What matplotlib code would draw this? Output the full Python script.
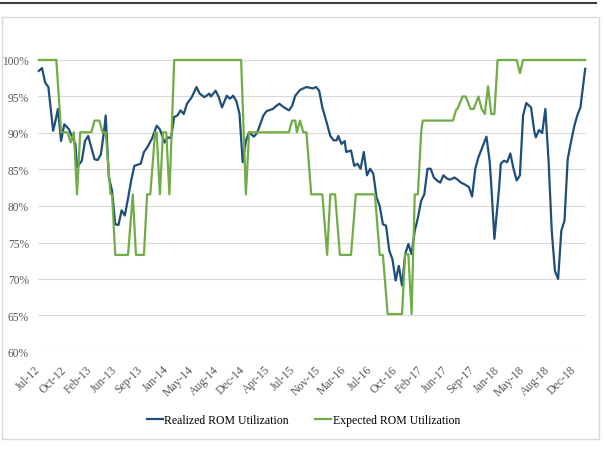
import matplotlib
matplotlib.use('Agg')
import matplotlib.pyplot as plt
from matplotlib.lines import Line2D
from matplotlib.patches import Rectangle

plt.rcParams['font.family'] = ['Liberation Serif', 'DejaVu Serif']

# weekly series, week 0 = early Jul-2012 (in %)
realized_weeks = [0, 2, 4, 6, 9, 10, 12, 14, 16, 19, 21, 23, 24, 27, 29, 31, 33, 35, 37, 39,
                  41, 42, 44, 46, 48, 50, 52, 54, 56, 58, 60, 64, 66, 68, 71, 74, 76, 79, 81, 83,
                  85, 87, 89, 91, 93, 96, 99, 101, 104, 107, 108, 111, 113, 115, 118, 120, 122, 124, 126, 128,
                  130, 132, 135, 137, 139, 141, 143, 147, 149, 151, 154, 157, 159, 161, 164, 168, 172, 174, 176, 178,
                  181, 183, 185, 187, 188, 190, 192, 193, 196, 198, 200, 202, 204, 206, 208, 210, 212, 214, 216, 218,
                  220, 222, 224, 226, 228, 230, 232, 234, 236, 238, 240, 242, 244, 246, 248, 250, 252, 254, 256, 258,
                  261, 263, 265, 267, 270, 272, 274, 276, 278, 281, 283, 284, 286, 289, 290, 292, 294, 296, 298, 300,
                  302, 304, 306, 309, 311, 312, 314, 316, 318, 320, 322, 324, 326, 328, 330, 332, 334, 336, 338, 340,
                  343]
realized_vals = [98.5, 98.9, 96.9, 96.3, 90.3, 91.2, 93.3, 88.9, 91.2, 90.5, 89.4, 88.5, 85.3, 86.2, 88.9, 89.6, 88.0, 86.4, 86.3, 87.1,
                 90.3, 92.4, 83.9, 82.1, 77.5, 77.4, 79.4, 78.7, 81.0, 83.5, 85.5, 85.8, 87.4, 88.0, 89.2, 91.0, 90.5, 88.7, 89.4, 89.3,
                 92.2, 92.4, 93.1, 92.6, 94.0, 94.9, 96.3, 95.4, 94.9, 95.4, 95.0, 95.8, 94.9, 93.5, 95.1, 94.7, 95.1, 94.4, 92.6, 86.0,
                 88.9, 90.1, 89.5, 90.0, 91.2, 92.4, 93.0, 93.3, 93.7, 94.0, 93.5, 93.1, 93.7, 95.1, 95.9, 96.3, 96.1, 96.3, 95.8, 93.5,
                 91.2, 89.6, 89.0, 89.0, 89.6, 88.5, 88.9, 87.4, 87.6, 85.5, 85.8, 85.1, 87.4, 84.2, 85.1, 84.4, 81.2, 80.0, 77.5, 77.3,
                 73.9, 72.7, 69.8, 71.8, 69.1, 73.4, 74.8, 73.4, 76.6, 78.4, 80.7, 81.6, 85.1, 85.1, 83.9, 83.5, 83.2, 84.2, 83.8, 83.6,
                 83.9, 83.6, 83.2, 83.0, 82.6, 81.3, 85.1, 86.7, 87.8, 89.5, 86.2, 83.0, 75.5, 82.6, 85.8, 86.2, 86.0, 87.2, 85.1, 83.5,
                 84.2, 92.4, 94.1, 93.5, 90.3, 89.4, 90.4, 90.0, 93.3, 86.2, 76.6, 71.1, 70.0, 76.6, 78.0, 86.4, 88.7, 90.8, 92.4, 93.5,
                 98.8]

expected_weeks = [0, 11, 13, 14, 18, 20, 21, 22, 24, 26, 33, 35, 38, 40, 42, 45, 46, 48, 56, 59,
                  61, 66, 68, 70, 73, 74, 76, 78, 80, 82, 85, 127, 130, 132, 157, 159, 161, 162, 164, 166,
                  168, 171, 178, 181, 183, 186, 189, 196, 199, 211, 214, 216, 219, 228, 230, 232, 234, 236, 238, 240,
                  241, 260, 262, 263, 266, 268, 271, 273, 276, 278, 280, 282, 284, 286, 288, 300, 302, 304, 343]
expected_vals = [100, 100, 93.5, 90.1, 90.1, 88.7, 89.4, 90.1, 81.6, 90.1, 90.1, 91.7, 91.7, 90.1, 90.1, 81.6, 81.6, 73.3, 73.3, 81.6,
                 73.3, 73.3, 81.6, 81.6, 90.1, 90.1, 81.6, 90.1, 90.1, 81.6, 100, 100, 81.6, 90.1, 90.1, 91.7, 91.7, 90.1, 91.7, 90.1,
                 90.1, 81.6, 81.6, 73.3, 81.6, 81.6, 73.3, 73.3, 81.6, 81.6, 73.3, 73.3, 65.2, 65.2, 73.4, 73.4, 65.2, 81.6, 81.6, 90.1,
                 91.7, 91.7, 93.2, 93.4, 95.0, 95.0, 93.3, 93.3, 95.0, 93.3, 92.6, 96.4, 92.6, 92.6, 100, 100, 98.2, 100, 100]

tick_weeks = list(range(0, 337, 16))
tick_labels = ['Jul-12', 'Oct-12', 'Feb-13', 'Jun-13', 'Sep-13', 'Jan-14', 'May-14', 'Aug-14', 'Dec-14', 'Apr-15', 'Jul-15',
               'Nov-15', 'Mar-16', 'Jul-16', 'Oct-16', 'Feb-17', 'Jun-17', 'Sep-17', 'Jan-18', 'May-18', 'Aug-18', 'Dec-18']
y_ticks = [60, 65, 70, 75, 80, 85, 90, 95, 100]

grey = '#595959'
fig = plt.figure(figsize=(6.04, 4.56), dpi=100)
ax = fig.add_axes([38 / 604, 1 - 353 / 456, 548 / 604, 292 / 456])

ax.plot(realized_weeks, realized_vals, color='#1f4e79', lw=1.6, label='Realized ROM Utilization',
        clip_on=False, solid_joinstyle='round')
ax.plot(expected_weeks, expected_vals, color='#70ad47', lw=1.6, label='Expected ROM Utilization',
        clip_on=False, solid_joinstyle='round')

ax.set_xlim(-0.5, 343.5)
ax.set_ylim(60, 100)
ax.set_yticks(y_ticks)
ax.set_yticklabels(['{}%'.format(v) for v in y_ticks], fontsize=8.3, color=grey)
ax.set_xticks(tick_weeks)
ax.set_xticklabels(tick_labels, fontsize=8.5, color=grey, rotation=45, ha='right', va='center',
                   rotation_mode='anchor')
ax.tick_params(axis='both', length=0)
ax.tick_params(axis='x', pad=11)
ax.tick_params(axis='y', pad=6.5)
ax.grid(axis='y', color='#d9d9d9', lw=0.8)
ax.set_axisbelow(True)
for s in ax.spines.values():
    s.set_visible(False)

fig.legend(loc='center', bbox_to_anchor=(0.502, 1 - 421 / 456), ncol=2, frameon=False, fontsize=8.5,
           handlelength=1.4, columnspacing=2.2, handletextpad=0.1)

# outer chart frame and the dark rule above it
fig.patches.append(Rectangle((2 / 604, 1 - 440 / 456), 597 / 604, 422 / 456, transform=fig.transFigure,
                             fill=False, edgecolor='#d9d9d9', lw=1))
fig.add_artist(Line2D([0, 596 / 604], [1 - 3.5 / 456, 1 - 3.5 / 456], color='#404040', lw=1.5))

plt.savefig('out.png', dpi=100)
plt.close()
